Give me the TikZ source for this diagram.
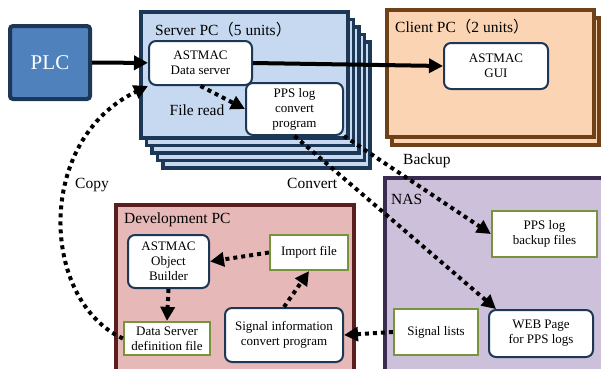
\documentclass[tikz,border=0pt]{standalone}
\usepackage{fontspec}
\setmainfont{Liberation Serif}
\newfontfamily\cjk{Noto Sans CJK JP}
\usetikzlibrary{arrows.meta}
\definecolor{navy}{HTML}{1D3757}
\definecolor{plcblue}{HTML}{4F81BD}
\definecolor{srvfill}{HTML}{C6D9F1}
\definecolor{peach}{HTML}{FBD4B4}
\definecolor{clientbrown}{HTML}{6E4119}
\definecolor{devfill}{HTML}{E6B9B8}
\definecolor{devred}{HTML}{5A1E1E}
\definecolor{nasfill}{HTML}{CCC0DA}
\definecolor{nasborder}{HTML}{3A2C4E}
\definecolor{filegreen}{HTML}{77933C}
\newcommand{\fwp}[1]{{\cjk #1}}

\begin{document}
\begin{tikzpicture}[x=1pt,y=-1pt,
    pcframe/.style={line width=3.5pt},
    soft/.style={draw=navy,fill=white,line width=2pt,rounded corners=7pt,
        align=center,inner sep=1pt,font=\fontsize{13}{15}\selectfont},
    filebox/.style={draw=filegreen,fill=white,line width=2.2pt,
        align=center,inner sep=1pt,font=\fontsize{13}{15}\selectfont},
    caption/.style={anchor=west,inner sep=0pt,font=\fontsize{15.5}{17}\selectfont},
    flow/.style={line width=4pt,-{Triangle[length=14pt,width=14pt]}},
    dotflow/.style={line width=4pt,dash pattern=on 4pt off 4pt,
        -{Triangle[length=14pt,width=14pt]}}]
    \useasboundingbox (0,0) rectangle (601,368);

    % machines
    \foreach \i in {4,3,2,1}
        \draw[pcframe,draw=navy,fill=srvfill]
            (141+5.5*\i,12+7.5*\i) rectangle (348+5.5*\i,138+7.5*\i);
    \draw[pcframe,draw=navy,fill=srvfill] (141,12) rectangle (348,138);
    \draw[pcframe,draw=clientbrown,fill=peach] (392,18) rectangle (599,145);
    \draw[pcframe,draw=clientbrown,fill=peach] (387,10) rectangle (594,137);
    \draw[pcframe,draw=nasborder,fill=nasfill] (385,178) rectangle (610,380);
    \draw[pcframe,draw=devred,fill=devfill] (116,205) rectangle (354,380);

    \node[caption] at (155,30)  (srvlbl) {Server PC\fwp{（}5 units\fwp{）}};
    \node[caption] at (395,27)  (clilbl) {Client PC\fwp{（}2 units\fwp{）}};
    \node[caption] at (391,199) (naslbl) {NAS};
    \node[caption] at (124,220) (devlbl) {Development PC};

    % boxes
    \node[draw=navy,fill=plcblue,line width=4pt,rounded corners=3pt,
        minimum width=80pt,minimum height=73pt,text=white,
        font=\fontsize{21}{24}\selectfont] at (50,62.5) (plc) {PLC};
    \node[soft,minimum width=103pt,minimum height=44pt] at (200.5,63) (srv)
        {ASTMAC\\Data server};
    \node[soft,minimum width=97pt,minimum height=52pt] at (294.5,109) (ppsconv)
        {PPS log\\convert\\program};
    \node[soft,minimum width=104pt,minimum height=46pt] at (496,66) (gui)
        {ASTMAC\\GUI};
    \node[filebox,minimum width=105pt,minimum height=46pt] at (544.5,234) (backup)
        {PPS log\\backup files};
    \node[soft,minimum width=104pt,minimum height=47pt] at (541,333.5) (web)
        {WEB Page\\for PPS logs};
    \node[filebox,minimum width=84pt,minimum height=46pt] at (436,332) (siglist)
        {Signal lists};
    \node[soft,minimum width=81pt,minimum height=53pt] at (168.5,261.5) (builder)
        {ASTMAC\\Object\\Builder};
    \node[filebox,minimum width=86pt,minimum height=33pt] at (167,338.5) (deffile)
        {Data Server\\definition file};
    \node[filebox,minimum width=78pt,minimum height=35pt] at (309,252.5) (import)
        {Import file};
    \node[soft,minimum width=118pt,minimum height=54pt] at (284,335) (sigconv)
        {Signal information\\convert program};

    \node[caption,anchor=center] at (197,110) (readlbl) {File read};
    \node[caption] at (75,185)  (copylbl) {Copy};
    \node[caption] at (403,161) (backlbl) {Backup};
    \node[caption] at (287,183) (convlbl) {Convert};

    % data flow
    \draw[flow] (plc) -- (srv);
    \draw[flow] (srv.east) -- (gui.west);
    \draw[dotflow] (srv.south) -- (ppsconv.west);
    \draw[dotflow] (ppsconv.south east) -- (backup.west);
    \draw[dotflow] (ppsconv.south) -- ([xshift=8pt]web.north west);
    \draw[dotflow] (import.west) -- (builder.east);
    \draw[dotflow] (builder.south) -- (deffile.north);
    \draw[dotflow] (sigconv.north) -- (import.south);
    \draw[dotflow] (siglist.west) -- (sigconv.east);
    \draw[dotflow] (deffile.west) .. controls (40,300) and (35,140) .. (srv.south west);
\end{tikzpicture}
\end{document}
